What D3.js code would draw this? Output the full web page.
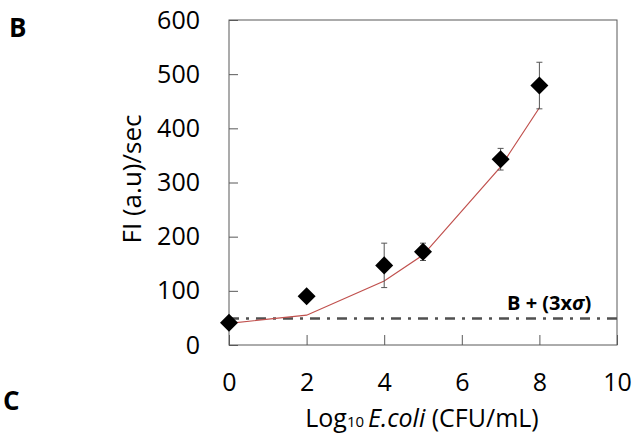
<!DOCTYPE html>
<html lang="en">
<head>
<meta charset="UTF-8">
<title>FI vs Log10 E.coli</title>
<script src="https://d3js.org/d3.v7.min.js"></script>
<style>
  html, body { margin: 0; padding: 0; background: #fff; overflow: hidden; }
  svg text { font-family: "Open Sans", "DejaVu Sans", sans-serif; fill: #000; }
</style>
</head>
<body>
<div id="chart"></div>
<script>
// values
const logConc = [0, 2, 4, 5, 7, 8]
const fiMean = [41, 90, 147, 172, 343, 479]
const fiErr = [0, 5, 41, 16, 20, 43]
const fitLine = [40, 55, 118, 166, 329, 438]
const blankLimit = 49
const xTicks = [0, 2, 4, 6, 8, 10]
const yTicks = [0, 100, 200, 300, 400, 500, 600]

const W = 634, H = 445
const m = { left: 229, top: 20, right: 17, bottom: 100 }
const iw = W - m.left - m.right, ih = H - m.top - m.bottom

const svg = d3.select('#chart').append('svg').attr('width', W).attr('height', H)
const g = svg.append('g').attr('transform', `translate(${m.left},${m.top})`)

const x = d3.scaleLinear().domain([0, 10]).range([0, iw])
const y = d3.scaleLinear().domain([0, 600]).range([ih, 0])

const axisCol = '#595959'

// frame
g.append('rect').attr('width', iw).attr('height', ih)
  .style('fill', 'none').style('stroke', axisCol).style('stroke-width', 1)

// inward ticks
const yAx = g.append('g').call(d3.axisLeft(y).tickValues(yTicks).tickSizeInner(-9).tickSizeOuter(0).tickPadding(29))
const xAx = g.append('g').attr('transform', `translate(0,${ih})`)
  .call(d3.axisBottom(x).tickValues(xTicks).tickSizeInner(-10).tickSizeOuter(0).tickPadding(28))
;[yAx, xAx].forEach(a => {
  a.select('.domain').remove()
  a.selectAll('line').style('stroke', axisCol)
  a.selectAll('text').style('font-size', '25px').style('font-family', '"Open Sans", sans-serif').attr('fill', '#000')
})
xAx.selectAll('text').attr('dy', '0.71em').attr('y', 28)

// blank + 3 sigma line
g.append('line').attr('x1', 0).attr('x2', iw).attr('y1', y(blankLimit)).attr('y2', y(blankLimit))
  .style('stroke', '#505050').style('stroke-width', 2.6).style('stroke-dasharray', '10,7,3,7')
g.append('text').attr('x', 278).attr('y', y(blankLimit) - 8)
  .style('font-size', '20px').style('font-weight', 'bold')
  .html('B + (3x<tspan style="font-style:italic">σ</tspan>)')

// fitted curve
const pts = logConc.map((c, i) => ({ c, fit: fitLine[i], mean: fiMean[i], err: fiErr[i] }))
g.append('path').datum(pts)
  .attr('d', d3.line().x(d => x(d.c)).y(d => y(d.fit)))
  .style('fill', 'none').style('stroke', '#c0504d').style('stroke-width', 1.2)

// error bars
const eb = g.selectAll('.eb').data(pts.filter(d => d.err > 0)).enter().append('g').attr('class', 'eb')
  .style('stroke', '#555').style('stroke-width', 1)
eb.append('line').attr('x1', d => x(d.c)).attr('x2', d => x(d.c))
  .attr('y1', d => y(d.mean - d.err)).attr('y2', d => y(d.mean + d.err))
eb.append('line').attr('x1', d => x(d.c) - 3).attr('x2', d => x(d.c) + 3)
  .attr('y1', d => y(d.mean + d.err)).attr('y2', d => y(d.mean + d.err))
eb.append('line').attr('x1', d => x(d.c) - 3).attr('x2', d => x(d.c) + 3)
  .attr('y1', d => y(d.mean - d.err)).attr('y2', d => y(d.mean - d.err))

// diamond markers
g.selectAll('.pt').data(pts).enter().append('path').attr('class', 'pt')
  .attr('d', d3.symbol(d3.symbolSquare, 162))
  .attr('transform', d => `translate(${x(d.c)},${y(d.mean)}) rotate(45)`)
  .style('fill', '#000')

// axis titles
svg.append('text').attr('text-anchor', 'middle')
  .attr('transform', `translate(141,179) rotate(-90)`)
  .style('font-size', '26px').text('FI (a.u)/sec')

const xt = svg.append('text').attr('x', m.left + iw / 2 - 1).attr('y', 427).attr('text-anchor', 'middle')
  .style('font-size', '25px')
xt.append('tspan').text('Log')
xt.append('tspan').style('font-size', '15px').text('10 ')
xt.append('tspan').style('font-style', 'italic').text('E.coli')
xt.append('tspan').text(' (CFU/mL)')

// panel letters
svg.append('text').attr('x', 9).attr('y', 37).style('font-size', '26px').style('font-weight', 'bold').text('B')
svg.append('text').attr('x', 3).attr('y', 410).style('font-size', '26px').style('font-weight', 'bold').text('C')
</script>
</body>
</html>
